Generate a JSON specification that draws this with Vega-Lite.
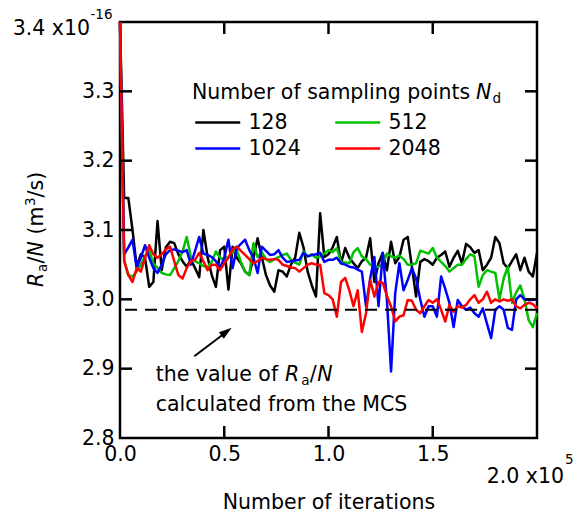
{
"$schema": "https://vega.github.io/schema/vega-lite/v6.json",
"width": 417, "height": 416,
"autosize": {"type": "none"},
"padding": {"left": 120, "top": 22, "right": 44, "bottom": 81},
"background": "white",
"config": {"font": "DejaVu Sans", "view": {"stroke": "black", "strokeWidth": 2.5}},
"datasets": {"one": [{}],
"series": [
{"n":"128","x":0,"y":3.4},{"n":"128","x":2000,"y":3.146},{"n":"128","x":4000,"y":3.146},{"n":"128","x":6000,"y":3.1},{"n":"128","x":8000,"y":3.047},{"n":"128","x":10000,"y":3.065},{"n":"128","x":12000,"y":3.06},{"n":"128","x":14000,"y":3.018},{"n":"128","x":16000,"y":3.025},{"n":"128","x":18000,"y":3.113},
{"n":"128","x":20000,"y":3.042},{"n":"128","x":22000,"y":3.075},{"n":"128","x":24000,"y":3.083},{"n":"128","x":26000,"y":3.081},{"n":"128","x":28000,"y":3.065},{"n":"128","x":30000,"y":3.055},{"n":"128","x":32000,"y":3.047},{"n":"128","x":34000,"y":3.057},{"n":"128","x":36000,"y":3.045},{"n":"128","x":38000,"y":3.032},
{"n":"128","x":40000,"y":3.1},{"n":"128","x":42000,"y":3.061},{"n":"128","x":44000,"y":3.035},{"n":"128","x":46000,"y":3.018},{"n":"128","x":48000,"y":3.071},{"n":"128","x":50000,"y":3.076},{"n":"128","x":52000,"y":3.014},{"n":"128","x":54000,"y":3.076},{"n":"128","x":56000,"y":3.06},{"n":"128","x":58000,"y":3.052},
{"n":"128","x":60000,"y":3.04},{"n":"128","x":62000,"y":3.035},{"n":"128","x":64000,"y":3.06},{"n":"128","x":66000,"y":3.088},{"n":"128","x":68000,"y":3.061},{"n":"128","x":70000,"y":3.035},{"n":"128","x":72000,"y":3.02},{"n":"128","x":74000,"y":3.011},{"n":"128","x":76000,"y":3.042},{"n":"128","x":78000,"y":3.04},
{"n":"128","x":80000,"y":3.033},{"n":"128","x":82000,"y":3.05},{"n":"128","x":84000,"y":3.06},{"n":"128","x":86000,"y":3.096},{"n":"128","x":88000,"y":3.075},{"n":"128","x":90000,"y":3.04},{"n":"128","x":92000,"y":3.02},{"n":"128","x":94000,"y":3.004},{"n":"128","x":96000,"y":3.124},{"n":"128","x":98000,"y":3.061},
{"n":"128","x":100000,"y":3.065},{"n":"128","x":102000,"y":3.075},{"n":"128","x":104000,"y":3.09},{"n":"128","x":106000,"y":3.052},{"n":"128","x":108000,"y":3.074},{"n":"128","x":110000,"y":3.06},{"n":"128","x":112000,"y":3.052},{"n":"128","x":114000,"y":3.045},{"n":"128","x":116000,"y":3.055},{"n":"128","x":118000,"y":3.06},
{"n":"128","x":120000,"y":3.088},{"n":"128","x":122000,"y":3.025},{"n":"128","x":124000,"y":3.052},{"n":"128","x":126000,"y":3.067},{"n":"128","x":128000,"y":3.042},{"n":"128","x":130000,"y":3.083},{"n":"128","x":132000,"y":3.052},{"n":"128","x":134000,"y":3.061},{"n":"128","x":136000,"y":3.086},{"n":"128","x":138000,"y":3.09},
{"n":"128","x":140000,"y":3.047},{"n":"128","x":142000,"y":3.004},{"n":"128","x":144000,"y":3.054},{"n":"128","x":146000,"y":3.058},{"n":"128","x":148000,"y":3.055},{"n":"128","x":150000,"y":3.05},{"n":"128","x":152000,"y":3.06},{"n":"128","x":154000,"y":3.064},{"n":"128","x":156000,"y":3.069},{"n":"128","x":158000,"y":3.047},
{"n":"128","x":160000,"y":3.06},{"n":"128","x":162000,"y":3.07},{"n":"128","x":164000,"y":3.052},{"n":"128","x":166000,"y":3.08},{"n":"128","x":168000,"y":3.075},{"n":"128","x":170000,"y":3.067},{"n":"128","x":172000,"y":3.071},{"n":"128","x":174000,"y":3.042},{"n":"128","x":176000,"y":3.05},{"n":"128","x":178000,"y":3.06},
{"n":"128","x":180000,"y":3.09},{"n":"128","x":182000,"y":3.081},{"n":"128","x":184000,"y":3.052},{"n":"128","x":186000,"y":3.045},{"n":"128","x":188000,"y":3.055},{"n":"128","x":190000,"y":3.065},{"n":"128","x":192000,"y":3.042},{"n":"128","x":194000,"y":3.06},{"n":"128","x":196000,"y":3.04},{"n":"128","x":198000,"y":3.033},
{"n":"128","x":200000,"y":3.067},
{"n":"512","x":0,"y":3.4},{"n":"512","x":2000,"y":3.057},{"n":"512","x":4000,"y":3.035},{"n":"512","x":6000,"y":3.033},{"n":"512","x":8000,"y":3.04},{"n":"512","x":10000,"y":3.05},{"n":"512","x":12000,"y":3.062},{"n":"512","x":14000,"y":3.071},{"n":"512","x":16000,"y":3.052},{"n":"512","x":18000,"y":3.045},
{"n":"512","x":20000,"y":3.038},{"n":"512","x":22000,"y":3.036},{"n":"512","x":24000,"y":3.035},{"n":"512","x":26000,"y":3.045},{"n":"512","x":28000,"y":3.055},{"n":"512","x":30000,"y":3.069},{"n":"512","x":32000,"y":3.09},{"n":"512","x":34000,"y":3.061},{"n":"512","x":36000,"y":3.055},{"n":"512","x":38000,"y":3.052},
{"n":"512","x":40000,"y":3.048},{"n":"512","x":42000,"y":3.047},{"n":"512","x":44000,"y":3.054},{"n":"512","x":46000,"y":3.069},{"n":"512","x":48000,"y":3.06},{"n":"512","x":50000,"y":3.057},{"n":"512","x":52000,"y":3.061},{"n":"512","x":54000,"y":3.068},{"n":"512","x":56000,"y":3.071},{"n":"512","x":58000,"y":3.054},
{"n":"512","x":60000,"y":3.04},{"n":"512","x":62000,"y":3.035},{"n":"512","x":64000,"y":3.081},{"n":"512","x":66000,"y":3.061},{"n":"512","x":68000,"y":3.068},{"n":"512","x":70000,"y":3.058},{"n":"512","x":72000,"y":3.054},{"n":"512","x":74000,"y":3.058},{"n":"512","x":76000,"y":3.061},{"n":"512","x":78000,"y":3.064},
{"n":"512","x":80000,"y":3.066},{"n":"512","x":82000,"y":3.057},{"n":"512","x":84000,"y":3.053},{"n":"512","x":86000,"y":3.05},{"n":"512","x":88000,"y":3.069},{"n":"512","x":90000,"y":3.062},{"n":"512","x":92000,"y":3.065},{"n":"512","x":94000,"y":3.06},{"n":"512","x":96000,"y":3.062},{"n":"512","x":98000,"y":3.066},
{"n":"512","x":100000,"y":3.071},{"n":"512","x":102000,"y":3.068},{"n":"512","x":104000,"y":3.074},{"n":"512","x":106000,"y":3.054},{"n":"512","x":108000,"y":3.053},{"n":"512","x":110000,"y":3.052},{"n":"512","x":112000,"y":3.068},{"n":"512","x":114000,"y":3.074},{"n":"512","x":116000,"y":3.062},{"n":"512","x":118000,"y":3.058},
{"n":"512","x":120000,"y":3.05},{"n":"512","x":122000,"y":3.047},{"n":"512","x":124000,"y":3.047},{"n":"512","x":126000,"y":3.05},{"n":"512","x":128000,"y":3.066},{"n":"512","x":130000,"y":3.062},{"n":"512","x":132000,"y":3.06},{"n":"512","x":134000,"y":3.063},{"n":"512","x":136000,"y":3.058},{"n":"512","x":138000,"y":3.05},
{"n":"512","x":140000,"y":3.05},{"n":"512","x":142000,"y":3.052},{"n":"512","x":144000,"y":3.07},{"n":"512","x":146000,"y":3.068},{"n":"512","x":148000,"y":3.066},{"n":"512","x":150000,"y":3.074},{"n":"512","x":152000,"y":3.06},{"n":"512","x":154000,"y":3.054},{"n":"512","x":156000,"y":3.048},{"n":"512","x":158000,"y":3.04},
{"n":"512","x":160000,"y":3.045},{"n":"512","x":162000,"y":3.05},{"n":"512","x":164000,"y":3.05},{"n":"512","x":166000,"y":3.058},{"n":"512","x":168000,"y":3.065},{"n":"512","x":170000,"y":3.062},{"n":"512","x":172000,"y":3.018},{"n":"512","x":174000,"y":3.035},{"n":"512","x":176000,"y":3.042},{"n":"512","x":178000,"y":3.04},
{"n":"512","x":180000,"y":3.038},{"n":"512","x":182000,"y":3.0},{"n":"512","x":184000,"y":3.03},{"n":"512","x":186000,"y":3.047},{"n":"512","x":188000,"y":2.995},{"n":"512","x":190000,"y":3.01},{"n":"512","x":192000,"y":3.02},{"n":"512","x":194000,"y":3.0},{"n":"512","x":196000,"y":2.97},{"n":"512","x":198000,"y":2.96},
{"n":"512","x":200000,"y":2.98},
{"n":"1024","x":0,"y":3.4},{"n":"1024","x":2000,"y":3.065},{"n":"1024","x":4000,"y":3.075},{"n":"1024","x":6000,"y":3.086},{"n":"1024","x":8000,"y":3.045},{"n":"1024","x":10000,"y":3.06},{"n":"1024","x":12000,"y":3.078},{"n":"1024","x":14000,"y":3.06},{"n":"1024","x":16000,"y":3.045},{"n":"1024","x":18000,"y":3.038},
{"n":"1024","x":20000,"y":3.05},{"n":"1024","x":22000,"y":3.065},{"n":"1024","x":24000,"y":3.071},{"n":"1024","x":26000,"y":3.072},{"n":"1024","x":28000,"y":3.07},{"n":"1024","x":30000,"y":3.068},{"n":"1024","x":32000,"y":3.071},{"n":"1024","x":34000,"y":3.05},{"n":"1024","x":36000,"y":3.07},{"n":"1024","x":38000,"y":3.09},
{"n":"1024","x":40000,"y":3.066},{"n":"1024","x":42000,"y":3.064},{"n":"1024","x":44000,"y":3.061},{"n":"1024","x":46000,"y":3.055},{"n":"1024","x":48000,"y":3.045},{"n":"1024","x":50000,"y":3.06},{"n":"1024","x":52000,"y":3.086},{"n":"1024","x":54000,"y":3.045},{"n":"1024","x":56000,"y":3.074},{"n":"1024","x":58000,"y":3.08},
{"n":"1024","x":60000,"y":3.086},{"n":"1024","x":62000,"y":3.071},{"n":"1024","x":64000,"y":3.06},{"n":"1024","x":66000,"y":3.038},{"n":"1024","x":68000,"y":3.076},{"n":"1024","x":70000,"y":3.07},{"n":"1024","x":72000,"y":3.064},{"n":"1024","x":74000,"y":3.065},{"n":"1024","x":76000,"y":3.071},{"n":"1024","x":78000,"y":3.06},
{"n":"1024","x":80000,"y":3.054},{"n":"1024","x":82000,"y":3.055},{"n":"1024","x":84000,"y":3.056},{"n":"1024","x":86000,"y":3.057},{"n":"1024","x":88000,"y":3.067},{"n":"1024","x":90000,"y":3.062},{"n":"1024","x":92000,"y":3.064},{"n":"1024","x":94000,"y":3.065},{"n":"1024","x":96000,"y":3.067},{"n":"1024","x":98000,"y":3.054},
{"n":"1024","x":100000,"y":3.057},{"n":"1024","x":102000,"y":3.057},{"n":"1024","x":104000,"y":3.06},{"n":"1024","x":106000,"y":3.052},{"n":"1024","x":108000,"y":3.05},{"n":"1024","x":110000,"y":3.047},{"n":"1024","x":112000,"y":3.046},{"n":"1024","x":114000,"y":3.043},{"n":"1024","x":116000,"y":3.04},{"n":"1024","x":118000,"y":2.99},
{"n":"1024","x":120000,"y":3.03},{"n":"1024","x":122000,"y":3.061},{"n":"1024","x":124000,"y":2.99},{"n":"1024","x":126000,"y":3.067},{"n":"1024","x":128000,"y":3.0},{"n":"1024","x":130000,"y":2.896},{"n":"1024","x":132000,"y":3.009},{"n":"1024","x":134000,"y":3.052},{"n":"1024","x":136000,"y":3.013},{"n":"1024","x":138000,"y":3.028},
{"n":"1024","x":140000,"y":3.045},{"n":"1024","x":142000,"y":3.03},{"n":"1024","x":144000,"y":3.0},{"n":"1024","x":146000,"y":2.975},{"n":"1024","x":148000,"y":2.99},{"n":"1024","x":150000,"y":2.99},{"n":"1024","x":152000,"y":2.975},{"n":"1024","x":154000,"y":3.033},{"n":"1024","x":156000,"y":3.015},{"n":"1024","x":158000,"y":2.995},
{"n":"1024","x":160000,"y":2.96},{"n":"1024","x":162000,"y":2.999},{"n":"1024","x":164000,"y":2.99},{"n":"1024","x":166000,"y":2.985},{"n":"1024","x":168000,"y":2.988},{"n":"1024","x":170000,"y":2.98},{"n":"1024","x":172000,"y":2.975},{"n":"1024","x":174000,"y":2.987},{"n":"1024","x":176000,"y":2.965},{"n":"1024","x":178000,"y":2.944},
{"n":"1024","x":180000,"y":2.985},{"n":"1024","x":182000,"y":2.99},{"n":"1024","x":184000,"y":2.985},{"n":"1024","x":186000,"y":2.959},{"n":"1024","x":188000,"y":2.956},{"n":"1024","x":190000,"y":3.0},{"n":"1024","x":192000,"y":3.006},{"n":"1024","x":194000,"y":3.0},{"n":"1024","x":196000,"y":2.999},{"n":"1024","x":198000,"y":2.999},
{"n":"1024","x":200000,"y":3.0},
{"n":"2048","x":0,"y":3.4},{"n":"2048","x":2000,"y":3.055},{"n":"2048","x":4000,"y":3.035},{"n":"2048","x":6000,"y":3.025},{"n":"2048","x":8000,"y":3.045},{"n":"2048","x":10000,"y":3.04},{"n":"2048","x":12000,"y":3.06},{"n":"2048","x":14000,"y":3.078},{"n":"2048","x":16000,"y":3.065},{"n":"2048","x":18000,"y":3.06},
{"n":"2048","x":20000,"y":3.065},{"n":"2048","x":22000,"y":3.072},{"n":"2048","x":24000,"y":3.076},{"n":"2048","x":26000,"y":3.055},{"n":"2048","x":28000,"y":3.035},{"n":"2048","x":30000,"y":3.03},{"n":"2048","x":32000,"y":3.045},{"n":"2048","x":34000,"y":3.055},{"n":"2048","x":36000,"y":3.057},{"n":"2048","x":38000,"y":3.067},
{"n":"2048","x":40000,"y":3.055},{"n":"2048","x":42000,"y":3.042},{"n":"2048","x":44000,"y":3.05},{"n":"2048","x":46000,"y":3.05},{"n":"2048","x":48000,"y":3.042},{"n":"2048","x":50000,"y":3.052},{"n":"2048","x":52000,"y":3.06},{"n":"2048","x":54000,"y":3.072},{"n":"2048","x":56000,"y":3.076},{"n":"2048","x":58000,"y":3.07},
{"n":"2048","x":60000,"y":3.064},{"n":"2048","x":62000,"y":3.058},{"n":"2048","x":64000,"y":3.052},{"n":"2048","x":66000,"y":3.055},{"n":"2048","x":68000,"y":3.06},{"n":"2048","x":70000,"y":3.058},{"n":"2048","x":72000,"y":3.057},{"n":"2048","x":74000,"y":3.058},{"n":"2048","x":76000,"y":3.057},{"n":"2048","x":78000,"y":3.05},
{"n":"2048","x":80000,"y":3.048},{"n":"2048","x":82000,"y":3.046},{"n":"2048","x":84000,"y":3.045},{"n":"2048","x":86000,"y":3.04},{"n":"2048","x":88000,"y":3.045},{"n":"2048","x":90000,"y":3.05},{"n":"2048","x":92000,"y":3.052},{"n":"2048","x":94000,"y":3.05},{"n":"2048","x":96000,"y":3.05},{"n":"2048","x":98000,"y":3.009},
{"n":"2048","x":100000,"y":3.006},{"n":"2048","x":102000,"y":3.0},{"n":"2048","x":104000,"y":2.975},{"n":"2048","x":106000,"y":3.025},{"n":"2048","x":108000,"y":3.031},{"n":"2048","x":110000,"y":3.013},{"n":"2048","x":112000,"y":2.99},{"n":"2048","x":114000,"y":3.013},{"n":"2048","x":116000,"y":2.953},{"n":"2048","x":118000,"y":2.98},
{"n":"2048","x":120000,"y":3.028},{"n":"2048","x":122000,"y":3.004},{"n":"2048","x":124000,"y":3.025},{"n":"2048","x":126000,"y":3.024},{"n":"2048","x":128000,"y":3.005},{"n":"2048","x":130000,"y":2.99},{"n":"2048","x":132000,"y":2.968},{"n":"2048","x":134000,"y":2.975},{"n":"2048","x":136000,"y":2.977},{"n":"2048","x":138000,"y":2.999},
{"n":"2048","x":140000,"y":2.998},{"n":"2048","x":142000,"y":2.985},{"n":"2048","x":144000,"y":2.98},{"n":"2048","x":146000,"y":2.99},{"n":"2048","x":148000,"y":2.999},{"n":"2048","x":150000,"y":2.995},{"n":"2048","x":152000,"y":3.0},{"n":"2048","x":154000,"y":2.985},{"n":"2048","x":156000,"y":2.968},{"n":"2048","x":158000,"y":2.992},
{"n":"2048","x":160000,"y":2.982},{"n":"2048","x":162000,"y":2.99},{"n":"2048","x":164000,"y":2.988},{"n":"2048","x":166000,"y":2.992},{"n":"2048","x":168000,"y":3.0},{"n":"2048","x":170000,"y":3.006},{"n":"2048","x":172000,"y":2.995},{"n":"2048","x":174000,"y":3.0},{"n":"2048","x":176000,"y":3.011},{"n":"2048","x":178000,"y":2.995},
{"n":"2048","x":180000,"y":3.0},{"n":"2048","x":182000,"y":2.997},{"n":"2048","x":184000,"y":3.0},{"n":"2048","x":186000,"y":2.998},{"n":"2048","x":188000,"y":3.0},{"n":"2048","x":190000,"y":2.99},{"n":"2048","x":192000,"y":2.987},{"n":"2048","x":194000,"y":2.992},{"n":"2048","x":196000,"y":2.995},{"n":"2048","x":198000,"y":2.993},
{"n":"2048","x":200000,"y":2.987}
]},
"resolve": {"axis": {"x": "independent", "y": "independent"}},
"layer": [
{"data": {"name": "series"},
 "mark": {"type": "line", "strokeWidth": 2.5, "strokeJoin": "round"},
 "encoding": {
  "x": {"field": "x", "type": "quantitative", "scale": {"domain": [0, 200000], "nice": false, "zero": false},
   "axis": {"orient": "bottom", "values": [0, 50000, 100000, 150000, 200000], "labelExpr": "datum.value > 190000 ? '' : format(datum.value / 100000, '.1f')", "ticks": false, "domain": false, "grid": false, "labelFontSize": 20.5, "labelColor": "black", "labelPadding": 6, "labelFlush": false, "labelOverlap": false, "title": "Number of iterations", "titleFontSize": 20.5, "titleFontWeight": "normal", "titleColor": "black", "titlePadding": 28}},
  "y": {"field": "y", "type": "quantitative", "scale": {"domain": [2.8, 3.4], "nice": false, "zero": false},
   "axis": {"orient": "left", "values": [2.8, 2.9, 3.0, 3.1, 3.2, 3.3, 3.4], "labelExpr": "datum.value > 3.35 ? '' : format(datum.value, '.1f')", "ticks": false, "domain": false, "grid": false, "labelFontSize": 20.5, "labelColor": "black", "labelPadding": 6, "labelFlush": false, "labelOverlap": false, "title": null}},
  "color": {"field": "n", "type": "nominal", "sort": ["128", "512", "1024", "2048"],
   "scale": {"domain": ["128", "512", "1024", "2048"], "range": ["#000000", "#00c000", "#0000ff", "#ff0000"]},
   "legend": {"orient": "none", "legendX": 85.25, "legendY": 88, "columns": 2, "direction": "horizontal", "title": null, "symbolType": "M-2,0L2,0", "symbolSize": 506, "symbolStrokeWidth": 2.5, "labelFontSize": 20.5, "labelColor": "black", "labelOffset": 18.25, "columnPadding": 29, "rowPadding": 3, "padding": 0}}
 }},
{"data": {"name": "one"}, "mark": {"type": "rule", "strokeWidth": 2.5, "color": "black"},
 "encoding": {"x": {"datum": 50000, "type": "quantitative", "axis": null}, "y": {"datum": 2.8, "type": "quantitative", "axis": null}, "x2": {"datum": 50000}, "y2": {"datum": 2.8173}}},
{"data": {"name": "one"}, "mark": {"type": "rule", "strokeWidth": 2.5, "color": "black"},
 "encoding": {"x": {"datum": 100000, "type": "quantitative", "axis": null}, "y": {"datum": 2.8, "type": "quantitative", "axis": null}, "x2": {"datum": 100000}, "y2": {"datum": 2.8173}}},
{"data": {"name": "one"}, "mark": {"type": "rule", "strokeWidth": 2.5, "color": "black"},
 "encoding": {"x": {"datum": 150000, "type": "quantitative", "axis": null}, "y": {"datum": 2.8, "type": "quantitative", "axis": null}, "x2": {"datum": 150000}, "y2": {"datum": 2.8173}}},
{"data": {"name": "one"}, "mark": {"type": "rule", "strokeWidth": 2.5, "color": "black"},
 "encoding": {"x": {"datum": 50000, "type": "quantitative", "axis": null}, "y": {"datum": 3.4, "type": "quantitative", "axis": null}, "x2": {"datum": 50000}, "y2": {"datum": 3.3827}}},
{"data": {"name": "one"}, "mark": {"type": "rule", "strokeWidth": 2.5, "color": "black"},
 "encoding": {"x": {"datum": 100000, "type": "quantitative", "axis": null}, "y": {"datum": 3.4, "type": "quantitative", "axis": null}, "x2": {"datum": 100000}, "y2": {"datum": 3.3827}}},
{"data": {"name": "one"}, "mark": {"type": "rule", "strokeWidth": 2.5, "color": "black"},
 "encoding": {"x": {"datum": 150000, "type": "quantitative", "axis": null}, "y": {"datum": 3.4, "type": "quantitative", "axis": null}, "x2": {"datum": 150000}, "y2": {"datum": 3.3827}}},
{"data": {"name": "one"}, "mark": {"type": "rule", "strokeWidth": 2.5, "color": "black"},
 "encoding": {"x": {"datum": 0, "type": "quantitative", "axis": null}, "y": {"datum": 2.9, "type": "quantitative", "axis": null}, "x2": {"datum": 5755}, "y2": {"datum": 2.9}}},
{"data": {"name": "one"}, "mark": {"type": "rule", "strokeWidth": 2.5, "color": "black"},
 "encoding": {"x": {"datum": 0, "type": "quantitative", "axis": null}, "y": {"datum": 3.0, "type": "quantitative", "axis": null}, "x2": {"datum": 5755}, "y2": {"datum": 3.0}}},
{"data": {"name": "one"}, "mark": {"type": "rule", "strokeWidth": 2.5, "color": "black"},
 "encoding": {"x": {"datum": 0, "type": "quantitative", "axis": null}, "y": {"datum": 3.1, "type": "quantitative", "axis": null}, "x2": {"datum": 5755}, "y2": {"datum": 3.1}}},
{"data": {"name": "one"}, "mark": {"type": "rule", "strokeWidth": 2.5, "color": "black"},
 "encoding": {"x": {"datum": 0, "type": "quantitative", "axis": null}, "y": {"datum": 3.2, "type": "quantitative", "axis": null}, "x2": {"datum": 5755}, "y2": {"datum": 3.2}}},
{"data": {"name": "one"}, "mark": {"type": "rule", "strokeWidth": 2.5, "color": "black"},
 "encoding": {"x": {"datum": 0, "type": "quantitative", "axis": null}, "y": {"datum": 3.3, "type": "quantitative", "axis": null}, "x2": {"datum": 5755}, "y2": {"datum": 3.3}}},
{"data": {"name": "one"}, "mark": {"type": "rule", "strokeWidth": 2.5, "color": "black"},
 "encoding": {"x": {"datum": 200000, "type": "quantitative", "axis": null}, "y": {"datum": 2.9, "type": "quantitative", "axis": null}, "x2": {"datum": 194245}, "y2": {"datum": 2.9}}},
{"data": {"name": "one"}, "mark": {"type": "rule", "strokeWidth": 2.5, "color": "black"},
 "encoding": {"x": {"datum": 200000, "type": "quantitative", "axis": null}, "y": {"datum": 3.0, "type": "quantitative", "axis": null}, "x2": {"datum": 194245}, "y2": {"datum": 3.0}}},
{"data": {"name": "one"}, "mark": {"type": "rule", "strokeWidth": 2.5, "color": "black"},
 "encoding": {"x": {"datum": 200000, "type": "quantitative", "axis": null}, "y": {"datum": 3.1, "type": "quantitative", "axis": null}, "x2": {"datum": 194245}, "y2": {"datum": 3.1}}},
{"data": {"name": "one"}, "mark": {"type": "rule", "strokeWidth": 2.5, "color": "black"},
 "encoding": {"x": {"datum": 200000, "type": "quantitative", "axis": null}, "y": {"datum": 3.2, "type": "quantitative", "axis": null}, "x2": {"datum": 194245}, "y2": {"datum": 3.2}}},
{"data": {"name": "one"}, "mark": {"type": "rule", "strokeWidth": 2.5, "color": "black"},
 "encoding": {"x": {"datum": 200000, "type": "quantitative", "axis": null}, "y": {"datum": 3.3, "type": "quantitative", "axis": null}, "x2": {"datum": 194245}, "y2": {"datum": 3.3}}},
{"data": {"name": "one"},
 "mark": {"type": "rule", "strokeDash": [12, 8], "strokeWidth": 2, "color": "black"},
 "encoding": {"y": {"datum": 2.985, "type": "quantitative", "axis": null}}},
{"data": {"name": "one"},
 "mark": {"type": "rule", "strokeWidth": 2, "color": "black"},
 "encoding": {"x": {"datum": 35635, "type": "quantitative", "axis": null},
  "y": {"datum": 2.918, "type": "quantitative", "axis": null},
  "x2": {"datum": 50360}, "y2": {"datum": 2.9514}}},
{"data": {"name": "one"},
 "mark": {"type": "point", "shape": "M0,0L-0.5,1.6L0.5,1.6Z", "filled": true, "color": "black", "opacity": 1, "size": 264, "angle": 53},
 "encoding": {"x": {"datum": 53573, "type": "quantitative", "axis": null}, "y": {"datum": 2.959, "type": "quantitative", "axis": null}}},
{"data": {"name": "one"},
 "mark": {"type": "text", "text": "the value of", "align": "left", "baseline": "alphabetic", "fontSize": 20.5, "color": "black"},
 "encoding": {"x": {"datum": 17122, "type": "quantitative", "axis": null}, "y": {"datum": 2.8827, "type": "quantitative", "axis": null}}},
{"data": {"name": "one"},
 "mark": {"type": "text", "text": "R", "fontStyle": "italic", "align": "left", "baseline": "alphabetic", "fontSize": 20.5, "color": "black", "dx": 129.3},
 "encoding": {"x": {"datum": 17122, "type": "quantitative", "axis": null}, "y": {"datum": 2.8827, "type": "quantitative", "axis": null}}},
{"data": {"name": "one"},
 "mark": {"type": "text", "text": "a", "align": "left", "baseline": "alphabetic", "fontSize": 13.5, "color": "black", "dx": 145.5, "dy": 4},
 "encoding": {"x": {"datum": 17122, "type": "quantitative", "axis": null}, "y": {"datum": 2.8827, "type": "quantitative", "axis": null}}},
{"data": {"name": "one"},
 "mark": {"type": "text", "text": "/", "align": "left", "baseline": "alphabetic", "fontSize": 20.5, "color": "black", "dx": 154},
 "encoding": {"x": {"datum": 17122, "type": "quantitative", "axis": null}, "y": {"datum": 2.8827, "type": "quantitative", "axis": null}}},
{"data": {"name": "one"},
 "mark": {"type": "text", "text": "N", "fontStyle": "italic", "align": "left", "baseline": "alphabetic", "fontSize": 20.5, "color": "black", "dx": 161.5},
 "encoding": {"x": {"datum": 17122, "type": "quantitative", "axis": null}, "y": {"datum": 2.8827, "type": "quantitative", "axis": null}}},
{"data": {"name": "one"},
 "mark": {"type": "text", "text": "calculated from the MCS", "align": "left", "baseline": "alphabetic", "fontSize": 20.5, "color": "black"},
 "encoding": {"x": {"datum": 17122, "type": "quantitative", "axis": null}, "y": {"datum": 2.8389, "type": "quantitative", "axis": null}}},
{"data": {"name": "one"},
 "mark": {"type": "text", "text": "Number of sampling points", "align": "left", "baseline": "alphabetic", "fontSize": 20.5, "color": "black"},
 "encoding": {"x": {"datum": 34533, "type": "quantitative", "axis": null}, "y": {"datum": 3.2885, "type": "quantitative", "axis": null}}},
{"data": {"name": "one"},
 "mark": {"type": "text", "text": "N", "fontStyle": "italic", "align": "left", "baseline": "alphabetic", "fontSize": 20.5, "color": "black", "dx": 284},
 "encoding": {"x": {"datum": 34533, "type": "quantitative", "axis": null}, "y": {"datum": 3.2885, "type": "quantitative", "axis": null}}},
{"data": {"name": "one"},
 "mark": {"type": "text", "text": "d", "align": "left", "baseline": "alphabetic", "fontSize": 13.5, "color": "black", "dx": 300.5, "dy": 4},
 "encoding": {"x": {"datum": 34533, "type": "quantitative", "axis": null}, "y": {"datum": 3.2885, "type": "quantitative", "axis": null}}},
{"data": {"name": "one"},
 "mark": {"type": "text", "text": "R", "fontStyle": "italic", "angle": 270, "align": "left", "baseline": "alphabetic", "fontSize": 20.5, "color": "black"},
 "encoding": {"x": {"datum": -36931, "type": "quantitative", "axis": null}, "y": {"datum": 3.0178, "type": "quantitative", "axis": null}}},
{"data": {"name": "one"},
 "mark": {"type": "text", "text": "a", "angle": 270, "align": "left", "baseline": "alphabetic", "fontSize": 13.5, "color": "black", "dx": 15, "dy": 4},
 "encoding": {"x": {"datum": -36931, "type": "quantitative", "axis": null}, "y": {"datum": 3.0178, "type": "quantitative", "axis": null}}},
{"data": {"name": "one"},
 "mark": {"type": "text", "text": "/", "angle": 270, "align": "left", "baseline": "alphabetic", "fontSize": 20.5, "color": "black", "dx": 23.5},
 "encoding": {"x": {"datum": -36931, "type": "quantitative", "axis": null}, "y": {"datum": 3.0178, "type": "quantitative", "axis": null}}},
{"data": {"name": "one"},
 "mark": {"type": "text", "text": "N", "fontStyle": "italic", "angle": 270, "align": "left", "baseline": "alphabetic", "fontSize": 20.5, "color": "black", "dx": 30.5},
 "encoding": {"x": {"datum": -36931, "type": "quantitative", "axis": null}, "y": {"datum": 3.0178, "type": "quantitative", "axis": null}}},
{"data": {"name": "one"},
 "mark": {"type": "text", "text": "(m", "angle": 270, "align": "left", "baseline": "alphabetic", "fontSize": 20.5, "color": "black", "dx": 52.5},
 "encoding": {"x": {"datum": -36931, "type": "quantitative", "axis": null}, "y": {"datum": 3.0178, "type": "quantitative", "axis": null}}},
{"data": {"name": "one"},
 "mark": {"type": "text", "text": "3", "angle": 270, "align": "left", "baseline": "alphabetic", "fontSize": 13.5, "color": "black", "dx": 81, "dy": -8},
 "encoding": {"x": {"datum": -36931, "type": "quantitative", "axis": null}, "y": {"datum": 3.0178, "type": "quantitative", "axis": null}}},
{"data": {"name": "one"},
 "mark": {"type": "text", "text": "/s)", "angle": 270, "align": "left", "baseline": "alphabetic", "fontSize": 20.5, "color": "black", "dx": 89.6},
 "encoding": {"x": {"datum": -36931, "type": "quantitative", "axis": null}, "y": {"datum": 3.0178, "type": "quantitative", "axis": null}}},
{"data": {"name": "one"},
 "mark": {"type": "text", "text": "3.4 x10", "align": "right", "baseline": "alphabetic", "fontSize": 20.5, "color": "black"},
 "encoding": {"x": {"datum": -14389, "type": "quantitative", "axis": null}, "y": {"datum": 3.3807, "type": "quantitative", "axis": null}}},
{"data": {"name": "one"},
 "mark": {"type": "text", "text": "-16", "align": "left", "baseline": "alphabetic", "fontSize": 13.5, "color": "black", "dx": 0.5, "dy": -16},
 "encoding": {"x": {"datum": -14389, "type": "quantitative", "axis": null}, "y": {"datum": 3.3807, "type": "quantitative", "axis": null}}},
{"data": {"name": "one"},
 "mark": {"type": "text", "text": "2.0 x10", "align": "right", "baseline": "alphabetic", "fontSize": 20.5, "color": "black"},
 "encoding": {"x": {"datum": 212951, "type": "quantitative", "axis": null}, "y": {"datum": 2.7347, "type": "quantitative", "axis": null}}},
{"data": {"name": "one"},
 "mark": {"type": "text", "text": "5", "align": "left", "baseline": "alphabetic", "fontSize": 13.5, "color": "black", "dx": 1, "dy": -19},
 "encoding": {"x": {"datum": 212951, "type": "quantitative", "axis": null}, "y": {"datum": 2.7347, "type": "quantitative", "axis": null}}}
]
}
